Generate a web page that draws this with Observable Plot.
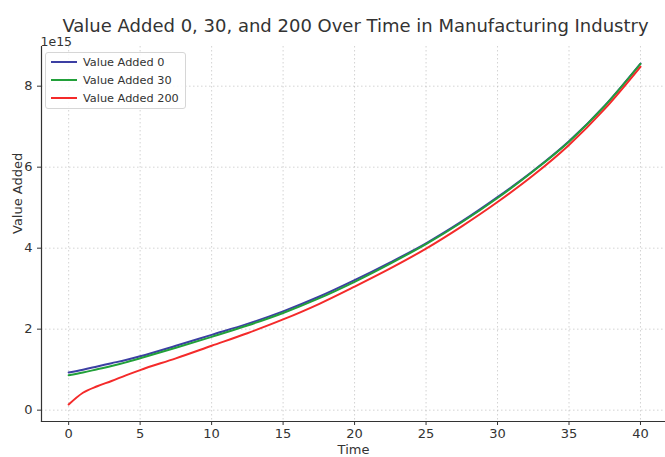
<!DOCTYPE html>
<html>
<head>
<meta charset="utf-8">
<script src="https://cdn.jsdelivr.net/npm/d3@7"></script>
<script src="https://cdn.jsdelivr.net/npm/@observablehq/plot@0.6"></script>
<style>
  html, body { margin: 0; padding: 0; background: #fff; }
  #wrap { position: relative; width: 665px; height: 457px; font-family: "DejaVu Sans", sans-serif; }
  #legend { position: absolute; left: 45px; top: 52px; width: 139px; height: 55px; border: 1px solid #d6d6d6; border-radius: 3px; background: rgba(255,255,255,0.85); font-size: 11.3px; color: #333; }
  #legend .row { position: absolute; left: 5px; height: 18px; display: flex; align-items: center; }
  #legend .sw { width: 26px; height: 2px; margin-right: 6px; }
</style>
</head>
<body>
<div id="wrap"><div id="legend"></div></div>
<script>
const time = [0, 1, 2, 3, 4, 5, 7.5, 10, 12.5, 15, 17.5, 20, 22.5, 25, 27.5, 30, 32.5, 35, 37.5, 40];
const valueAdded0   = [0.93, 1.00, 1.08, 1.16, 1.24, 1.33, 1.59, 1.86, 2.13, 2.44, 2.80, 3.21, 3.65, 4.12, 4.66, 5.26, 5.91, 6.64, 7.52, 8.56];
const valueAdded30  = [0.86, 0.93, 1.01, 1.09, 1.18, 1.28, 1.54, 1.81, 2.09, 2.40, 2.76, 3.17, 3.62, 4.10, 4.64, 5.24, 5.90, 6.63, 7.51, 8.55];
const valueAdded200 = [0.14, 0.43, 0.59, 0.72, 0.86, 0.99, 1.28, 1.59, 1.90, 2.24, 2.62, 3.05, 3.50, 3.99, 4.54, 5.14, 5.80, 6.55, 7.44, 8.48];
const seriesNames = ["Value Added 0", "Value Added 30", "Value Added 200"];
const seriesColors = ["#3c3fa3", "#22a03a", "#f42a2a"];
const xTicks = [0, 5, 10, 15, 20, 25, 30, 35, 40];
const yTicks = [0, 2, 4, 6, 8];
const scaleExp = 1e15;

const allSeries = [valueAdded0, valueAdded30, valueAdded200];
const rows = [];
allSeries.forEach((vals, si) => vals.forEach((v, i) => rows.push({series: seriesNames[si], t: time[i], v: v * scaleExp})));

const ink = "#333";
const chart = Plot.plot({
  width: 665,
  height: 457,
  marginLeft: 41,
  marginRight: 0,
  marginTop: 46,
  marginBottom: 36,
  style: {fontFamily: "DejaVu Sans, sans-serif", fontSize: "13px", color: ink, background: "transparent"},
  x: {domain: [-1.9, 41.75], ticks: xTicks, label: null},
  y: {domain: [-0.28 * scaleExp, 8.98 * scaleExp], ticks: yTicks.map(d => d * scaleExp), label: null},
  color: {domain: seriesNames, range: seriesColors},
  marks: [
    Plot.gridX(xTicks, {stroke: "#b0b0b0", strokeOpacity: 0.7, strokeDasharray: "1.5,2.5", strokeWidth: 0.8}),
    Plot.gridY(yTicks.map(d => d * scaleExp), {stroke: "#b0b0b0", strokeOpacity: 0.7, strokeDasharray: "1.5,2.5", strokeWidth: 0.8}),
    Plot.axisX(xTicks, {tickSize: 4, tickPadding: 3, stroke: ink, fill: ink, fontSize: 13, label: null}),
    Plot.axisY(yTicks.map(d => d * scaleExp), {tickSize: 4, tickPadding: 5, stroke: ink, fill: ink, fontSize: 13, tickFormat: d => String(d / scaleExp), label: null}),
    Plot.frame({anchor: "left", stroke: ink, strokeWidth: 1.2}),
    Plot.frame({anchor: "bottom", stroke: ink, strokeWidth: 1.2}),
    Plot.line(rows, {x: "t", y: "v", z: "series", stroke: "series", strokeWidth: 2, curve: "monotone-x"}),
    Plot.text(["Value Added 0, 30, and 200 Over Time in Manufacturing Industry"], {frameAnchor: "top", dx: 2, dy: -27, fontSize: 18, fill: ink}),
    Plot.text(["1e15"], {frameAnchor: "top-left", dx: -1, dy: -9, textAnchor: "start", fontSize: 12.5, fill: ink}),
    Plot.text(["Time"], {frameAnchor: "bottom", lineAnchor: "bottom", dy: 32, fontSize: 13, fill: ink}),
    Plot.text(["Value Added"], {frameAnchor: "left", dx: -24, rotate: -90, fontSize: 13, fill: ink})
  ]
});
const wrap = document.getElementById("wrap");
wrap.insertBefore(chart, wrap.firstChild);

const legend = document.getElementById("legend");
seriesNames.forEach((name, i) => {
  const row = document.createElement("div");
  row.className = "row";
  row.style.top = (0 + i * 18) + "px";
  const sw = document.createElement("div");
  sw.className = "sw";
  sw.style.background = seriesColors[i];
  const lab = document.createElement("span");
  lab.textContent = name;
  row.appendChild(sw);
  row.appendChild(lab);
  legend.appendChild(row);
});
</script>
</body>
</html>
